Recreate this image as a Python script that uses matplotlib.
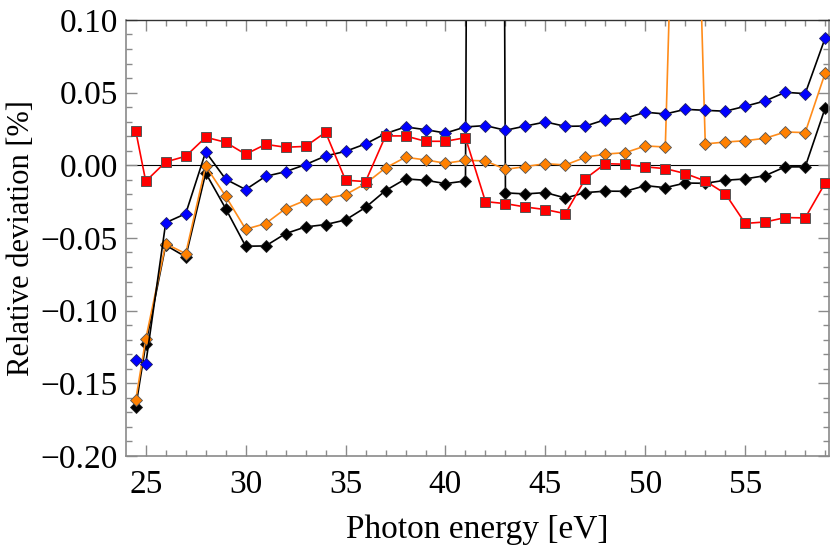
import numpy as np
import matplotlib
matplotlib.use('Agg')
import matplotlib.pyplot as plt
from matplotlib.ticker import MultipleLocator, FuncFormatter

# Energías de fotón [eV]
energia = [24.5] + list(range(25, 60))

# Desviación relativa [%] por serie
rojo = [0.0236, -0.011, 0.0023, 0.0062, 0.0193, 0.0158, 0.0076, 0.0144, 0.0124, 0.013,
        0.0227, -0.0103, -0.0112, 0.0202, 0.0202, 0.0165, 0.0165, 0.019, -0.025, -0.0264,
        -0.0287, -0.0305, -0.0333, -0.0092, 0.0011, 0.0007, -0.0011, -0.0023, -0.0057, -0.0108,
        -0.0195, -0.040, -0.039, -0.036, -0.0362, -0.0122]
azul = [-0.1337, -0.1367, -0.0395, -0.0333, 0.0092, -0.0096, -0.0167, -0.0076, -0.0044, 0.0005,
        0.0064, 0.0096, 0.0147, 0.0218, 0.0264, 0.0245, 0.0222, 0.0264, 0.0273, 0.0241,
        0.027, 0.0298, 0.0268, 0.027, 0.0314, 0.0323, 0.0365, 0.0353, 0.0385, 0.0378,
        0.0372, 0.0406, 0.0443, 0.0502, 0.0493, 0.0876]
naranja = [-0.1615, -0.1195, -0.054, -0.0608, -0.0005, -0.0213, -0.044, -0.0401, -0.0298, -0.0241,
           -0.0229, -0.0202, -0.0126, -0.0018, 0.0055, 0.0037, 0.0014, 0.0034, 0.003, -0.0028,
           -0.0009, 0.0011, 0.0002, 0.0055, 0.0077, 0.0087, 0.0133, 0.0126, 0.49, 0.0147,
           0.016, 0.0169, 0.0186, 0.0229, 0.0225, 0.0635]
negro = [-0.1663, -0.1232, -0.055, -0.063, -0.0053, -0.0298, -0.0557, -0.0555, -0.047, -0.0424,
         -0.0408, -0.0376, -0.029, -0.0174, -0.0094, -0.0103, -0.0126, -0.0108, 3.0, -0.019,
         -0.0197, -0.0188, -0.0225, -0.0188, -0.0178, -0.0179, -0.014, -0.0154, -0.0122, -0.0124,
         -0.0103, -0.0094, -0.0071, -0.0011, -0.0011, 0.0394]

plt.rcParams['font.family'] = ['Liberation Serif', 'DejaVu Serif']
plt.rcParams['axes.unicode_minus'] = True

fig = plt.figure(figsize=(8.3, 5.54), dpi=100)
ax = fig.add_axes([0.152, 0.177, 0.847, 0.787])

gris = '#8a8a8a'
borde = '#555555'

ax.axhline(0, color='black', lw=0.8, zorder=1)
ax.plot(energia, negro, color='black', lw=1.2, marker='D', ms=6, mfc='black', mec='#222222', mew=0.6, zorder=2)
ax.plot(energia, naranja, color='#ff8c1a', lw=1.2, marker='D', ms=6, mfc='#ff8000', mec=borde, mew=0.6, zorder=3)
ax.plot(energia, azul, color='black', lw=1.2, marker='D', ms=6, mfc='#0000ff', mec='#222266', mew=0.6, zorder=4)
ax.plot(energia, rojo, color='#ff0000', lw=1.2, marker='s', ms=7.5, mfc='#ff0000', mec=borde, mew=0.7, zorder=5)

ax.set_xlim(24.02, 59.2)
ax.set_ylim(-0.20, 0.10)

ax.xaxis.set_major_locator(MultipleLocator(5))
ax.xaxis.set_minor_locator(MultipleLocator(1))
ax.yaxis.set_major_locator(MultipleLocator(0.05))
ax.yaxis.set_minor_locator(MultipleLocator(0.01))


def fmt(v, pos):
    s = '%.2f' % v
    if s == '-0.00':
        s = '0.00'
    return s.replace('-', '\u2212')


ax.yaxis.set_major_formatter(FuncFormatter(fmt))

ax.tick_params(which='both', direction='in', top=True, right=True, color=gris,
               labelsize=24, width=1.0)
ax.tick_params(which='major', length=8)
ax.tick_params(which='minor', length=4)
ax.tick_params(axis='x', which='major', pad=10)
ax.tick_params(axis='y', which='major', pad=6)

for lado in ['left', 'bottom', 'right']:
    ax.spines[lado].set_color(gris)
    ax.spines[lado].set_linewidth(1.2)
ax.spines['top'].set_color('#333333')
ax.spines['top'].set_linewidth(1.0)

ax.set_xlabel('Photon energy [eV]', fontsize=24, labelpad=10)
ax.set_ylabel('Relative deviation [%]', fontsize=22, labelpad=3)

fig.savefig('out.png', dpi=100)
